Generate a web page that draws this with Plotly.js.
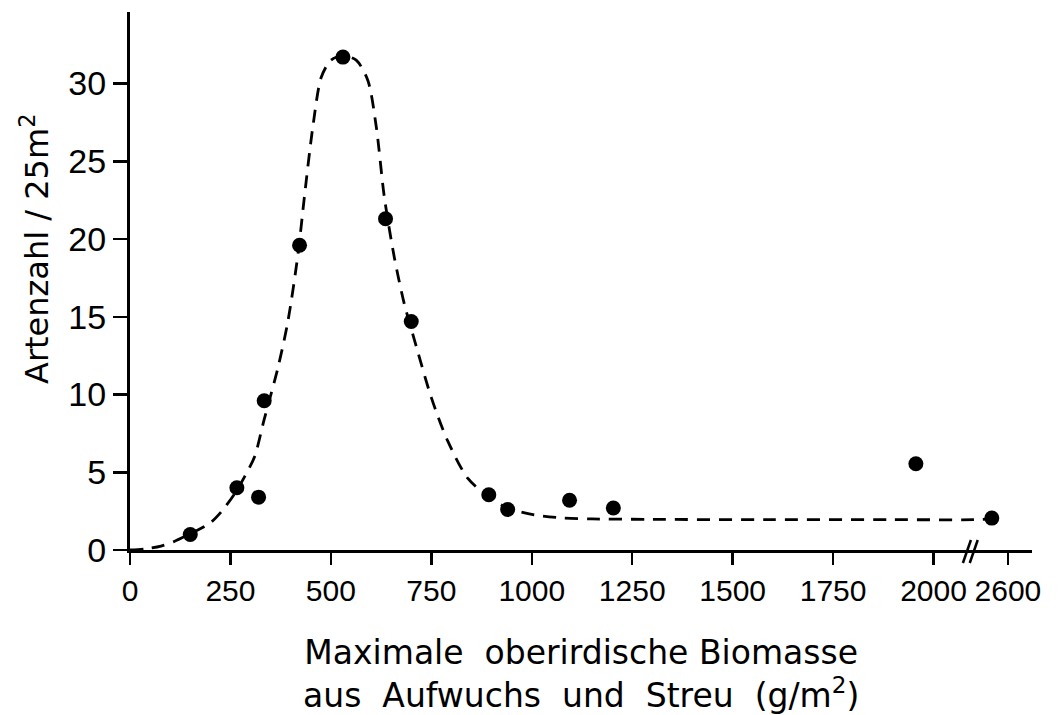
<!DOCTYPE html>
<html>
<head>
<meta charset="utf-8">
<script src="https://cdn.plot.ly/plotly-3.0.1.min.js"></script>
<style>
  html, body { margin: 0; padding: 0; background: #fff; }
  #chart { width: 1060px; height: 715px; }
</style>
</head>
<body>
<div id="chart"></div>
<script>
// Measured points: biomass (g/m²) and species count per 25 m²
const biomass = [150, 266, 320, 334, 422, 530, 636, 700, 893, 940, 1094, 1203, 1956, 2560];
const species = [1.0, 4.0, 3.4, 9.6, 19.6, 31.7, 21.3, 14.7, 3.55, 2.6, 3.2, 2.7, 5.55, 2.05];

// Fitted (dashed) curve
const curveX = [0, 40, 77, 110, 150, 200, 227, 260, 285, 310, 334, 368, 393, 418, 434, 455, 476, 500, 530, 563, 592, 613, 633, 658, 683, 708, 750, 791, 841, 891, 940, 1007, 1073, 1150, 1300, 1600, 1900, 2100, 2560];
const curveY = [0, 0.08, 0.25, 0.55, 1.05, 1.75, 2.45, 3.6, 4.7, 6.0, 8.4, 11.7, 14.7, 19.0, 22.7, 27.2, 30.4, 31.5, 31.8, 31.5, 30.2, 27.2, 22.7, 18.8, 15.8, 13.5, 9.8, 7.0, 4.6, 3.45, 2.7, 2.25, 2.07, 2.0, 1.97, 1.95, 1.95, 1.95, 2.0];

// Axis ticks
const xTickVals = [0, 250, 500, 750, 1000, 1250, 1500, 1750, 2000, 2600];
const xTickText = ['0', '250', '500', '750', '1000', '1250', '1500', '1750', '2000', '2600'];
const yTickVals = [0, 5, 10, 15, 20, 25, 30];

// Broken x axis: values beyond the break are shifted left
const BREAK_AT = 2150, BREAK_SHIFT = 415;
const mapX = v => (v > BREAK_AT ? v - BREAK_SHIFT : v);
const BREAK_MARKS = [2083, 2100];

const font = "'DejaVu Sans', sans-serif";
const tickFont = "'Liberation Sans', Arial, sans-serif";

const traces = [
  {
    x: curveX.map(mapX), y: curveY, type: 'scatter', mode: 'lines',
    line: { color: '#000', width: 2.8, dash: '13px,9px', shape: 'spline', smoothing: 0.8 },
    hoverinfo: 'skip', showlegend: false
  },
  {
    x: biomass.map(mapX), y: species, type: 'scatter', mode: 'markers',
    marker: { color: '#000', size: 15, line: { width: 0 } },
    showlegend: false
  }
];

const layout = {
  width: 1060, height: 715,
  margin: { l: 130, r: 28, t: 12, b: 165 },
  paper_bgcolor: '#fff', plot_bgcolor: '#fff',
  showlegend: false,
  xaxis: {
    range: [0, 2245], showgrid: false, zeroline: false,
    showline: true, linecolor: '#000', linewidth: 3,
    ticks: 'outside', ticklen: 12, tickwidth: 2.5, tickcolor: '#000',
    tickvals: xTickVals.map(mapX), ticktext: xTickText, tickangle: 0,
    tickfont: { family: tickFont, size: 30, color: '#000' },
    ticklabelstandoff: 0
  },
  yaxis: {
    range: [0, 34.6], showgrid: false, zeroline: false,
    showline: true, linecolor: '#000', linewidth: 3,
    ticks: 'outside', ticklen: 14, tickwidth: 2.5, tickcolor: '#000',
    tickvals: yTickVals, tickangle: 0,
    tickfont: { family: tickFont, size: 34, color: '#000' },
    ticklabelstandoff: 0
  },
  annotations: [
    {
      text: 'Artenzahl / 25m<sup>2</sup>', xref: 'paper', yref: 'paper',
      x: 0, y: 0.5, xanchor: 'center', yanchor: 'middle',
      xshift: -95, yshift: 32, textangle: -90, showarrow: false,
      font: { family: font, size: 32, color: '#000' }
    },
    {
      text: 'Maximale\u00a0 oberirdische Biomasse<br>aus\u00a0 Aufwuchs\u00a0 und\u00a0 Streu\u00a0 (g/m<sup>2</sup>)',
      xref: 'paper', yref: 'paper',
      x: 0.5, y: 0, xanchor: 'center', yanchor: 'middle', yshift: -124,
      showarrow: false, font: { family: font, size: 33, color: '#000' }
    }
  ],
  shapes: BREAK_MARKS.map(bx => ({
    type: 'line', xref: 'x', yref: 'paper',
    xsizemode: 'pixel', xanchor: bx, x0: -4, x1: 4,
    ysizemode: 'pixel', yanchor: 0, y0: -13, y1: 10,
    line: { color: '#000', width: 2.5 }
  }))
};

Plotly.newPlot('chart', traces, layout, { staticPlot: true, displayModeBar: false });
</script>
</body>
</html>
